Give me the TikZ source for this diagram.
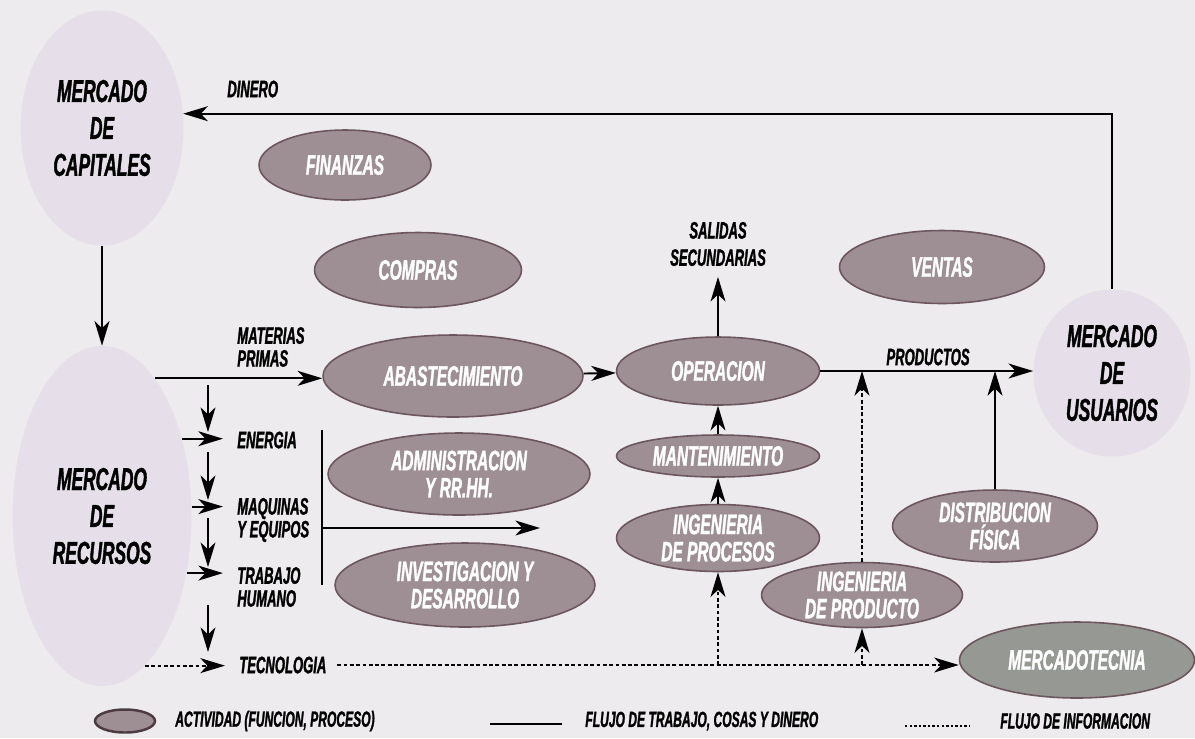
\documentclass[tikz,border=0pt]{standalone}
\usepackage{fontspec}
\newfontfamily\condsf{Liberation Sans}[FakeStretch=0.55, BoldItalicFeatures={FakeBold=1.2}]
\usetikzlibrary{shapes.geometric,arrows.meta,positioning}

\definecolor{fondo}{RGB}{237,235,237}
\definecolor{mercadocol}{RGB}{230,222,232}
\definecolor{actfill}{RGB}{158,143,149}
\definecolor{actedge}{RGB}{108,86,94}
\definecolor{mktfill}{RGB}{150,152,148}

\tikzset{
  mercado/.style={ellipse, fill=mercadocol, inner sep=0pt, align=center,
    font=\condsf\bfseries\itshape\fontsize{18}{21}\selectfont},
  act/.style={ellipse, fill=actfill, draw=actedge, line width=0.9pt, inner xsep=0pt, inner ysep=-6pt,
    align=center, text=white, font=\condsf\bfseries\itshape\fontsize{16}{15.5}\selectfont},
  lbl/.style={inner sep=0pt, align=left, font=\condsf\bfseries\itshape\fontsize{13.5}{13}\selectfont},
  leyenda/.style={inner sep=0pt, anchor=west, font=\condsf\bfseries\itshape\fontsize{12.5}{12}\selectfont},
  flujo/.style={line width=1.1pt, -{Stealth[length=14pt,width=8.5pt,inset=4pt]}},
  info/.style={flujo, dash pattern=on 2.2pt off 1.4pt},
}

\begin{document}
\begin{tikzpicture}[x=0.02cm, y=-0.02cm]
\path[use as bounding box, fill=fondo] (0,0) rectangle (1195,738);

% mercados
\node[mercado, minimum width=3.26cm, minimum height=4.7cm] (capitales) at (102,128) {MERCADO\\DE\\CAPITALES};
\node[mercado, minimum width=3.58cm, minimum height=6.8cm] (recursos) at (102,516) {MERCADO\\DE\\RECURSOS};
\node[mercado, minimum width=3.14cm, minimum height=3.34cm] (usuarios) at (1112,373) {MERCADO\\DE\\USUARIOS};

% actividades
\node[act, minimum width=3.44cm, minimum height=1.4cm] (finanzas) at (345,165) {FINANZAS};
\node[act, minimum width=4.14cm, minimum height=1.5cm] (compras) at (418,270) {COMPRAS};
\node[act, minimum width=5.2cm, minimum height=1.64cm] (abast) at (453,376) {ABASTECIMIENTO};
\node[act, minimum width=5.24cm, minimum height=1.64cm] (admin) at (459,474) {ADMINISTRACION\\Y RR.HH.};
\node[act, minimum width=5.2cm, minimum height=1.68cm] (invest) at (465,585) {INVESTIGACION Y\\DESARROLLO};
\node[act, minimum width=4.06cm, minimum height=1.36cm] (operacion) at (718,371) {OPERACION};
\node[act, minimum width=4.06cm, minimum height=0.84cm] (mant) at (718,456) {MANTENIMIENTO};
\node[act, minimum width=4.06cm, minimum height=1.34cm] (ingproc) at (718,538) {INGENIERIA\\DE PROCESOS};
\node[act, minimum width=4.1cm, minimum height=1.46cm] (ventas) at (942,267) {VENTAS};
\node[act, minimum width=4.1cm, minimum height=1.44cm] (distrib) at (995,526) {DISTRIBUCION\\FÍSICA};
\node[act, minimum width=4.02cm, minimum height=1.3cm] (ingprod) at (862,595) {INGENIERIA\\DE PRODUCTO};
\node[act, fill=mktfill, minimum width=4.7cm, minimum height=1.52cm] (merca) at (1077,660) {MERCADOTECNIA};

% etiquetas de flujos
\node[lbl, anchor=west] (dinero) at (227,89) {DINERO};
\node[lbl, anchor=west] (materias) at (237,347) {MATERIAS\\PRIMAS};
\node[lbl, anchor=west] (energia) at (237,440) {ENERGIA};
\node[lbl, anchor=west] (maquinas) at (237,520) {MAQUINAS\\Y EQUIPOS};
\node[lbl, anchor=west] (trabajo) at (237,587) {TRABAJO\\HUMANO};
\node[lbl, anchor=west] (tecno) at (239,665) {TECNOLOGIA};
\node[lbl, align=center, font=\condsf\bfseries\itshape\fontsize{13.5}{15.5}\selectfont] (salidas) at (718,244) {SALIDAS\\SECUNDARIAS};
\node[lbl] (productos) at (928,357) {PRODUCTOS};

% flujos de trabajo, cosas y dinero
\draw[flujo] (usuarios.north) |- (capitales.10);
\draw[flujo] (capitales.south) -- (recursos.north);
\draw[flujo] (recursos.69) -- (recursos.69 -| abast.west);
\draw[flujo, shorten >=8pt] (recursos.44) -- (recursos.44 -| energia.west);
\draw[flujo, shorten >=8pt] (recursos.6) -- (recursos.6 -| maquinas.west);
\draw[flujo, shorten >=8pt] (recursos.-34) -- (recursos.-34 -| trabajo.west);
\foreach \a/\b in {385/432, 452/500, 518/567, 605/652}
  \draw[flujo] (208,\a) -- (208,\b);
\draw[line width=1.1pt] (322,430) -- (322,585);
\draw[flujo] (322,528) -- (540,528);
\draw[flujo] (abast) -- (operacion);
\draw[flujo, shorten >=6pt] (operacion.north) -- (salidas.south);
\draw[flujo] (mant) -- (operacion);
\draw[flujo] (ingproc) -- (mant);
\draw[flujo] (operacion.east) -- (operacion.east -| usuarios.west);
\draw[flujo] (distrib.north) -- (distrib.north |- operacion.east);

% flujos de informacion
\draw[info, shorten >=8pt] (recursos.-74) -- (recursos.-74 -| tecno.west);
\draw[info, shorten <=6pt] (tecno.east) -- (tecno.east -| merca.west);
\draw[info] (ingproc.south |- tecno.east) -- (ingproc.south);
\draw[info] (ingprod.south |- tecno.east) -- (ingprod.south);
\draw[info] (ingprod.north) -- (ingprod.north |- operacion.east);

% leyenda
\node[act, draw=actedge!70!black, line width=1.4pt, minimum width=1.2cm, minimum height=0.46cm] (muestra) at (125,721) {};
\node[leyenda] at (175,721) {ACTIVIDAD (FUNCION, PROCESO)};
\draw[line width=1.1pt] (490,724) -- (562,724);
\node[leyenda] at (585,721) {FLUJO DE TRABAJO, COSAS Y DINERO};
\draw[line width=1.1pt, dash pattern=on 1.4pt off 1.2pt] (905,726) -- (970,726);
\node[leyenda] at (1000,721) {FLUJO DE INFORMACION};
\end{tikzpicture}
\end{document}
